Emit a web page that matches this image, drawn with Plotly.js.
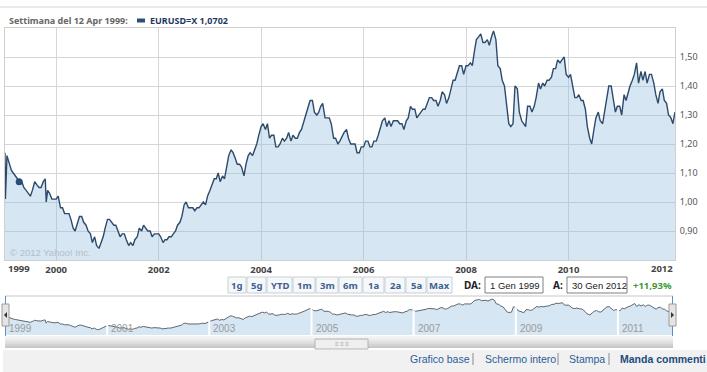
<!DOCTYPE html>
<html><head><meta charset="utf-8">
<script src="https://cdn.plot.ly/plotly-3.0.1.min.js"></script>
<style>html,body{margin:0;padding:0;background:#fff;overflow:hidden}#chart{width:707px;height:372px}</style>
</head><body><div id="chart"></div>
<script>
// ---- data (EUR/USD, values read at the 1st and 15th of each month) ----
const v1999=[1.17,1.16,1.13,1.11,1.10,1.09,1.08,1.07,1.07,1.05,1.04,1.03,1.02,1.04,1.07,1.06,1.05,1.05,1.07,1.08,1.04,1.03,1.01,1.01];
const v2000=[1.01,1.02,0.98,0.98,0.96,0.96,0.96,0.94,0.91,0.90,0.93,0.95,0.95,0.93,0.92,0.90,0.89,0.86,0.88,0.85,0.84,0.86,0.88,0.91];
const v2001=[0.94,0.94,0.93,0.92,0.92,0.90,0.88,0.89,0.89,0.87,0.85,0.86,0.85,0.87,0.88,0.91,0.90,0.92,0.91,0.90,0.90,0.88,0.89,0.89];
const v2002=[0.89,0.88,0.86,0.87,0.87,0.88,0.88,0.89,0.90,0.92,0.93,0.95,0.99,1.00,0.98,0.98,0.98,0.97,0.98,0.98,0.99,1.00,0.99,1.02];
const v2003=[1.04,1.06,1.08,1.08,1.10,1.07,1.09,1.08,1.12,1.16,1.18,1.17,1.15,1.13,1.13,1.12,1.09,1.13,1.16,1.17,1.16,1.18,1.20,1.23];
const v2004=[1.26,1.27,1.25,1.27,1.22,1.23,1.23,1.19,1.19,1.20,1.22,1.21,1.22,1.24,1.21,1.23,1.22,1.22,1.24,1.25,1.28,1.30,1.33,1.35];
const v2005=[1.35,1.31,1.30,1.31,1.33,1.34,1.29,1.29,1.29,1.27,1.22,1.22,1.20,1.21,1.23,1.24,1.25,1.22,1.20,1.20,1.20,1.17,1.17,1.19];
const v2006=[1.19,1.21,1.21,1.19,1.19,1.21,1.21,1.23,1.26,1.28,1.29,1.26,1.28,1.26,1.28,1.28,1.28,1.27,1.27,1.25,1.28,1.29,1.33,1.32];
const v2007=[1.32,1.29,1.30,1.31,1.32,1.32,1.34,1.36,1.36,1.35,1.35,1.33,1.35,1.38,1.37,1.34,1.36,1.39,1.42,1.42,1.45,1.47,1.47,1.44];
const v2008=[1.47,1.47,1.48,1.47,1.52,1.56,1.57,1.58,1.55,1.55,1.56,1.54,1.57,1.59,1.56,1.47,1.46,1.42,1.40,1.34,1.27,1.26,1.27,1.40];
const v2009=[1.39,1.31,1.28,1.27,1.26,1.33,1.33,1.31,1.33,1.36,1.41,1.39,1.41,1.40,1.42,1.42,1.43,1.46,1.46,1.49,1.48,1.49,1.50,1.44];
const v2010=[1.43,1.44,1.39,1.36,1.36,1.37,1.35,1.35,1.32,1.26,1.22,1.20,1.25,1.29,1.31,1.28,1.27,1.31,1.37,1.40,1.40,1.36,1.31,1.33];
const v2011=[1.33,1.30,1.37,1.35,1.38,1.40,1.42,1.44,1.48,1.41,1.45,1.42,1.45,1.41,1.44,1.44,1.41,1.37,1.34,1.38,1.39,1.35,1.34,1.30];
const d2012=['2012-01-01','2012-01-15','2012-01-30'];
const v2012=[1.29,1.27,1.31];
const glitchDates=['1999-01-04','1999-10-22'];
const glitchValues=[1.01,1.00];
const hoverDate=['1999-04-12'];
const hoverValue=[1.0702];

const xTickYears=['2000','2002','2004','2006','2008','2010'];
const edgeYears=['1999','2012'];
const yTicks=[0.90,1.00,1.10,1.20,1.30,1.40,1.50];
const navYears=['1999','2001','2003','2005','2007','2009','2011'];
const rangeButtons=['1g','5g','YTD','1m','3m','6m','1a','2a','5a','Max'];
const footerLinks=['Grafico base','Schermo intero','Stampa','Manda commenti'];
const headerLabel='Settimana del 12 Apr 1999:';
const seriesName='EURUSD=X';
const seriesValueLabel='1,0702';
const startLabel='1 Gen 1999', endLabel='30 Gen 2012', changeLabel='+11,93%';
const watermark='\u00a9 2012 Yahoo! Inc.';

// ---- build series ----
const yearly={1999:v1999,2000:v2000,2001:v2001,2002:v2002,2003:v2003,2004:v2004,2005:v2005,2006:v2006,2007:v2007,2008:v2008,2009:v2009,2010:v2010,2011:v2011};
let pts=[];
Object.keys(yearly).forEach(y=>{
  yearly[y].forEach((v,i)=>{
    const m=String(Math.floor(i/2)+1).padStart(2,'0');
    const d=i%2?'15':'01';
    pts.push([y+'-'+m+'-'+d,v]);
  });
});
d2012.forEach((d,i)=>pts.push([d,v2012[i]]));
glitchDates.forEach((d,i)=>pts.push([d,glitchValues[i]]));
pts.sort((a,b)=>a[0]<b[0]?-1:a[0]>b[0]?1:0);
const dates=pts.map(p=>p[0]), rates=pts.map(p=>p[1]);
const xStart=dates[0], xEnd=dates[dates.length-1];

// ---- geometry helpers (pixel -> paper) ----
const W=707,H=372;
const X=p=>p/W, Y=p=>1-p/H;
const F='Noto Sans, DejaVu Sans, sans-serif';
const A='Liberation Sans, Arial, sans-serif';

const shapes=[], ann=[];
// header line
shapes.push({type:'line',xref:'paper',yref:'paper',x0:0,x1:1,y0:Y(7),y1:Y(7),line:{color:'#d4d4d4',width:1}});
// legend swatch
shapes.push({type:'rect',xref:'paper',yref:'paper',x0:X(137),x1:X(145),y0:Y(22.5),y1:Y(18.5),fillcolor:'#2f4e75',line:{width:0}});
ann.push({xref:'paper',yref:'paper',x:X(7),y:Y(20.5),xanchor:'left',yanchor:'middle',showarrow:false,text:'<b>'+headerLabel+'</b>',font:{family:F,size:9,color:'#666'}});
ann.push({xref:'paper',yref:'paper',x:X(148),y:Y(20.5),xanchor:'left',yanchor:'middle',showarrow:false,text:'<b>'+seriesName+' '+seriesValueLabel+'</b>',font:{family:F,size:9,color:'#1f3a5f'}});
// edge year labels
ann.push({xref:'x',yref:'paper',x:xStart,y:Y(268),xanchor:'left',yanchor:'middle',xshift:1,showarrow:false,text:'<b>'+edgeYears[0]+'</b>',font:{family:F,size:9.5,color:'#444'}});
ann.push({xref:'x',yref:'paper',x:xEnd,y:Y(268),xanchor:'right',yanchor:'middle',showarrow:false,text:'<b>'+edgeYears[1]+'</b>',font:{family:F,size:9.5,color:'#444'}});
// watermark
ann.push({xref:'paper',yref:'paper',x:X(8),y:Y(253),xanchor:'left',yanchor:'middle',showarrow:false,text:watermark,font:{family:A,size:9.5,color:'#b4bec8'}});

// range buttons
const buttonEdges=[[228,246],[247,266],[267,292],[293,315],[316,338],[339,362],[363,384],[385,405],[406,426],[427,452]];
rangeButtons.forEach((b,i)=>{
  const e=buttonEdges[i];
  shapes.push({type:'rect',xref:'paper',yref:'paper',x0:X(e[0]),x1:X(e[1]),y0:Y(293),y1:Y(277),fillcolor:'#f6f8fa',line:{color:'#c6d0da',width:1}});
  ann.push({xref:'paper',yref:'paper',x:X((e[0]+e[1])/2),y:Y(285),xanchor:'center',yanchor:'middle',showarrow:false,text:'<b>'+b+'</b>',font:{family:F,size:9.5,color:'#3d6290'}});
});
// date inputs
ann.push({xref:'paper',yref:'paper',x:X(483),y:Y(285),xanchor:'right',yanchor:'middle',showarrow:false,text:'<b>DA:</b>',font:{family:F,size:10,color:'#222'}});
shapes.push({type:'rect',xref:'paper',yref:'paper',x0:X(485),x1:X(543),y0:Y(293),y1:Y(277),fillcolor:'#fff',line:{color:'#808080',width:1}});
ann.push({xref:'paper',yref:'paper',x:X(488),y:Y(285),xanchor:'left',yanchor:'middle',showarrow:false,text:startLabel,font:{family:A,size:9.5,color:'#222'}});
ann.push({xref:'paper',yref:'paper',x:X(565),y:Y(285),xanchor:'right',yanchor:'middle',showarrow:false,text:'<b>A:</b>',font:{family:F,size:10,color:'#222'}});
shapes.push({type:'rect',xref:'paper',yref:'paper',x0:X(567),x1:X(627),y0:Y(293),y1:Y(277),fillcolor:'#fff',line:{color:'#808080',width:1}});
ann.push({xref:'paper',yref:'paper',x:X(570),y:Y(285),xanchor:'left',yanchor:'middle',showarrow:false,text:endLabel,font:{family:A,size:9.5,color:'#222'}});
ann.push({xref:'paper',yref:'paper',x:X(631),y:Y(285),xanchor:'left',yanchor:'middle',showarrow:false,text:'<b>'+changeLabel+'</b>',font:{family:F,size:9.5,color:'#3c9a31'}});

// navigator frame
shapes.push({type:'line',xref:'paper',yref:'paper',x0:X(5),x1:X(673),y0:Y(296),y1:Y(296),line:{color:'#c8c8c8',width:1}});
navYears.slice(1).forEach(y=>{
  shapes.push({type:'line',xref:'x2',yref:'paper',x0:y+'-01-01',x1:y+'-01-01',y0:Y(335),y1:Y(297),line:{color:'#ffffff',width:2}});
});
navYears.forEach(y=>{
  ann.push({xref:'x2',yref:'paper',x:y+'-01-01',y:Y(328),xanchor:'left',yanchor:'middle',xshift:2,showarrow:false,text:y,font:{family:A,size:10,color:'#9a9a9a'}});
});
// selection edges + handles
[5.5,672.5].forEach(px=>{
  shapes.push({type:'line',xref:'paper',yref:'paper',x0:X(px),x1:X(px),y0:Y(296),y1:Y(336),line:{color:'#5b8fc7',width:1}});
});
[[2,9],[669,676]].forEach(e=>{
  shapes.push({type:'rect',xref:'paper',yref:'paper',x0:X(e[0]),x1:X(e[1]),y0:Y(326),y1:Y(304),fillcolor:'#e4e4e4',line:{color:'#9c9c9c',width:1}});
});
shapes.push({type:'path',xref:'paper',yref:'paper',path:`M ${X(4)} ${Y(315)} L ${X(7)} ${Y(312)} L ${X(7)} ${Y(318)} Z`,fillcolor:'#333',line:{width:0}});
shapes.push({type:'path',xref:'paper',yref:'paper',path:`M ${X(674)} ${Y(315)} L ${X(671)} ${Y(312)} L ${X(671)} ${Y(318)} Z`,fillcolor:'#333',line:{width:0}});
// scrollbar gradient bands
const bandColors=['#f4f4f4','#eeeeee','#e6e6e6','#dddddd','#d3d3d3','#c8c8c8'];
bandColors.forEach((c,i)=>{
  shapes.push({type:'rect',xref:'paper',yref:'paper',x0:X(5),x1:X(673),y0:Y(338+2*i),y1:Y(336+2*i),fillcolor:c,line:{width:0}});
});
shapes.push({type:'rect',xref:'paper',yref:'paper',x0:X(315),x1:X(368),y0:Y(349),y1:Y(339),fillcolor:'#efefef',line:{color:'#b2b2b2',width:1}});
ann.push({xref:'paper',yref:'paper',x:X(341.5),y:Y(344),xanchor:'center',yanchor:'middle',showarrow:false,text:'\u2261 \u2261 \u2261',font:{family:A,size:6,color:'#a0a0a0'}});
// footer
shapes.push({type:'rect',xref:'paper',yref:'paper',x0:X(3),x1:1,y0:0,y1:Y(350),fillcolor:'#f1f1f1',line:{width:0}});
const footerLeft=[408,483,567,618];
const sepLeft=[473,558,609];
footerLinks.forEach((t,i)=>{
  const bold=i===footerLinks.length-1;
  ann.push({xref:'paper',yref:'paper',x:X(footerLeft[i]),y:Y(359),xanchor:'left',yanchor:'middle',showarrow:false,text:bold?'<b>'+t+'</b>':t,font:{family:A,size:10.5,color:bold?'#1d4c7e':'#2a5d9a'}});
});
sepLeft.forEach(px=>{
  shapes.push({type:'line',xref:'paper',yref:'paper',x0:X(px),x1:X(px),y0:Y(353),y1:Y(365),line:{color:'#8a8a8a',width:1}});
});

const traces=[
  {type:'scatter',mode:'lines',x:dates,y:rates,xaxis:'x',yaxis:'y',fill:'tozeroy',fillcolor:'rgba(140,185,222,0.36)',line:{color:'#2d4a6b',width:1.4},hoverinfo:'skip'},
  {type:'scatter',mode:'markers',x:hoverDate,y:hoverValue,xaxis:'x',yaxis:'y',marker:{color:'#2a4d78',size:7,line:{width:0}},hoverinfo:'skip'},
  {type:'scatter',mode:'lines',x:dates,y:rates,xaxis:'x2',yaxis:'y2',fill:'tozeroy',fillcolor:'rgba(140,185,222,0.36)',line:{color:'#5e6770',width:1},hoverinfo:'skip'}
];

const layout={
  width:W,height:H,margin:{l:0,r:0,t:0,b:0,pad:0},
  paper_bgcolor:'#fff',plot_bgcolor:'#fff',showlegend:false,separators:',.',
  xaxis:{domain:[X(5),X(675)],range:[xStart,xEnd],type:'date',
    tickvals:xTickYears.map(y=>y+'-01-01'),ticktext:xTickYears.map(y=>'<b>'+y+'</b>'),
    tickfont:{family:F,size:9.5,color:'#444'},showgrid:true,gridcolor:'#d6d6d6',gridwidth:1,
    showline:true,linecolor:'#cfcfcf',mirror:true,ticks:'',zeroline:false,fixedrange:true,ticklabelstandoff:1},
  yaxis:{domain:[Y(260),Y(28)],range:[0.80,1.60],side:'right',tickvals:yTicks,tickformat:'.2f',
    tickfont:{family:F,size:9,color:'#555'},showgrid:true,gridcolor:'#d6d6d6',gridwidth:1,
    showline:true,linecolor:'#cfcfcf',mirror:true,ticks:'',zeroline:false,fixedrange:true,ticklabelstandoff:2},
  xaxis2:{domain:[X(5),X(673)],range:[xStart,xEnd],type:'date',anchor:'y2',showticklabels:false,showgrid:false,zeroline:false,showline:false,ticks:'',fixedrange:true},
  yaxis2:{domain:[Y(335),Y(297)],range:[0.71,1.64],anchor:'x2',showticklabels:false,showgrid:false,zeroline:false,showline:false,ticks:'',fixedrange:true},
  shapes:shapes,annotations:ann,hovermode:false
};
Plotly.newPlot('chart',traces,layout,{staticPlot:true,displayModeBar:false});
</script></body></html>
